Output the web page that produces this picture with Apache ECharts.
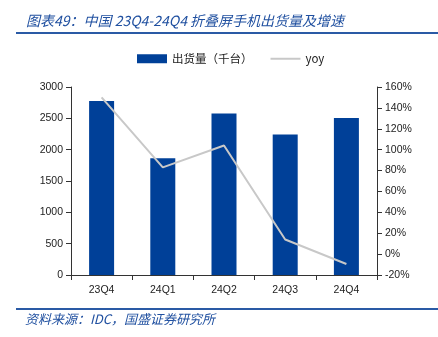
<!DOCTYPE html>
<html><head><meta charset="utf-8">
<script src="https://cdn.jsdelivr.net/npm/echarts@6/dist/echarts.min.js"></script>
<style>html,body{margin:0;padding:0;background:#fff}#c{width:438px;height:337px}</style>
</head><body><div id="c"></div>
<script>
const categories = ['23Q4','24Q1','24Q2','24Q3','24Q4'];
const shipments = [2777, 1862, 2577, 2243, 2507];
const yoy = [150, 83, 104, 14, -9.5];
const leftTicks = [0, 3000, 500];
const rightTicks = [-20, 160, 20];

const chart = echarts.init(document.getElementById('c'), null, {renderer:'canvas'});
const axisFont = {fontFamily:'Liberation Sans', fontSize:10.5, color:'#222'};
const cjk = '"Noto Sans CJK SC"';
chart.setOption({
  animation:false,
  title:{text:'图表49：中国 23Q4-24Q4 折叠屏手机出货量及增速', left:21, top:9,
    textStyle:{fontFamily:cjk, fontStyle:'italic', fontWeight:'normal', fontSize:14, color:'#2050a0'}},
  graphic:[
    {type:'line', shape:{x1:16,y1:33,x2:438,y2:33}, style:{stroke:'#2a5aa5', lineWidth:2}},
    {type:'line', shape:{x1:16,y1:309,x2:438,y2:309}, style:{stroke:'#2a5aa5', lineWidth:2}},
    {type:'text', left:25, top:313, style:{text:'资料来源：IDC，国盛证券研究所', font:'italic 13px "Noto Sans CJK SC"', fill:'#2050a0'}}
  ],
  legend:{left:132, top:48, itemWidth:30, itemHeight:9, itemGap:17,
    textStyle:{fontFamily:cjk, fontSize:11.5, color:'#222'},
    data:[{name:'出货量（千台）', icon:'rect'}, {name:'yoy', itemStyle:{opacity:0}}]},
  grid:{left:71, right:61, top:87, bottom:62},
  xAxis:{type:'category', data:categories,
    axisLine:{lineStyle:{color:'#333'}}, axisTick:{show:true, lineStyle:{color:'#333'}},
    axisLabel:Object.assign({margin:10}, axisFont)},
  yAxis:[
    {type:'value', min:leftTicks[0], max:leftTicks[1], interval:leftTicks[2],
      splitLine:{show:false}, axisLine:{show:true, lineStyle:{color:'#333'}},
      axisTick:{show:true, lineStyle:{color:'#333'}},
      axisLabel:Object.assign({margin:8, formatter:v=>String(v)}, axisFont)},
    {type:'value', min:rightTicks[0], max:rightTicks[1], interval:rightTicks[2],
      splitLine:{show:false}, axisLine:{show:true, lineStyle:{color:'#333'}},
      axisTick:{show:true, lineStyle:{color:'#333'}},
      axisLabel:Object.assign({margin:8, formatter:'{value}%'}, axisFont)}
  ],
  series:[
    {name:'出货量（千台）', type:'bar', data:shipments, barWidth:25, itemStyle:{color:'#004098'}},
    {name:'yoy', type:'line', yAxisIndex:1, data:yoy, symbol:'none',
      lineStyle:{color:'#c8c8c8', width:2}, itemStyle:{color:'#c8c8c8'}}
  ]
});
</script></body></html>
